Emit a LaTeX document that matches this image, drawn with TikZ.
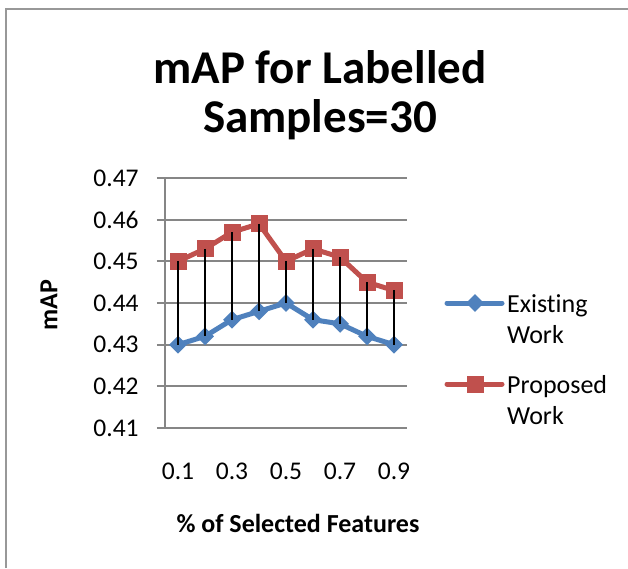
\documentclass[tikz,border=0pt]{standalone}
\usepackage{fontspec}
\setmainfont{Carlito}[Ligatures=NoCommon]
\usetikzlibrary{shapes.geometric}
\definecolor{exblue}{HTML}{4F81BD}
\definecolor{prred}{HTML}{C0504D}
\definecolor{gridgray}{HTML}{868686}
\tikzset{
  gridln/.style ={draw=gridgray,line width=2pt},
  frame/.style  ={draw=gridgray!85,line width=2.5pt},
  exline/.style ={draw=exblue,line width=5pt,line join=round},
  prline/.style ={draw=prred,line width=5pt,line join=round},
  exmark/.style ={diamond,fill=exblue,inner sep=0pt,minimum size=18pt},
  prmark/.style ={rectangle,fill=prred,inner sep=0pt,minimum size=17pt},
  hilo/.style   ={draw=black,line width=1.5pt},
  ticklbl/.style={font=\fontsize{25.5}{30}\selectfont,inner sep=0pt},
  axttl/.style  ={font=\bfseries\fontsize{26}{30}\selectfont,inner sep=0pt},
  charttl/.style={font=\bfseries\fontsize{47}{52}\selectfont,inner sep=0pt},
  legtxt/.style ={font=\fontsize{26}{31}\selectfont,align=left,inner sep=0pt},
}
\begin{document}
\begin{tikzpicture}[x=1pt,y=-1pt]
  \useasboundingbox (0,0) rectangle (628,568);
  \draw[frame] (6,568) -- (6,9) -- (628,9);
  % title
  \node[charttl,anchor=base] (ttl1) at (320,83) {mAP for Labelled};
  \node[charttl,anchor=base] (ttl2) at (320,132) {Samples=30};
  % plot area, data units: x = feature step, y = mAP in thousandths above 0.41
  \begin{scope}[shift={(178,428)},x=27pt,y=4.167pt]
    \foreach \g in {0,10,...,60}
      \draw[gridln] (-0.78,\g) -- (8.48,\g);
    \draw[gridln] (-0.48,0) -- (-0.48,60);
    \foreach \g/\t in {0/0.41,10/0.42,20/0.43,30/0.44,40/0.45,50/0.46,60/0.47}
      \node[ticklbl,anchor=east] (yl\g) at (-1.45,\g) {\t};
    \foreach \k/\t in {0/0.1,2/0.3,4/0.5,6/0.7,8/0.9}
      \node[ticklbl,anchor=base] (xl\k) at (\k,-12.3) {\t};
    % series
    \foreach \v [count=\i from 0] in {20,22,26,28,30,26,25,22,20}
      \coordinate (e\i) at (\i,\v);
    \foreach \v [count=\i from 0] in {40,43,47,49,40,43,41,35,33}
      \coordinate (p\i) at (\i,\v);
    \draw[exline] (e0) \foreach \i in {1,...,8}{ -- (e\i)};
    \draw[prline] (p0) \foreach \i in {1,...,8}{ -- (p\i)};
    \foreach \i in {0,...,8}{
      \node[exmark] (em\i) at (e\i) {};
      \node[prmark] (pm\i) at (p\i) {};
    }
    % high-low lines
    \foreach \i in {0,...,8}
      \draw[hilo] (p\i) -- (e\i);
  \end{scope}
  % axis titles
  \node[axttl,rotate=90] (yttl) at (49,305) {mAP};
  \node[axttl,anchor=base] (xttl) at (298,532) {\% of Selected Features};
  % legend (base = last line)
  \coordinate (leA) at (447,303);
  \coordinate (leB) at (502,303);
  \draw[exline,line cap=round] (leA) -- (leB);
  \node[exmark] (lem) at (475,303) {};
  \node[legtxt,anchor=base west] (lex) at (507,343) {Exist\kern0pt ing\\Work};
  \coordinate (lpA) at (447,384);
  \coordinate (lpB) at (502,384);
  \draw[prline,line cap=round] (lpA) -- (lpB);
  \node[prmark] (lpm) at (475,384) {};
  \node[legtxt,anchor=base west] (lpx) at (507,424) {Proposed\\Work};
\end{tikzpicture}
\end{document}
